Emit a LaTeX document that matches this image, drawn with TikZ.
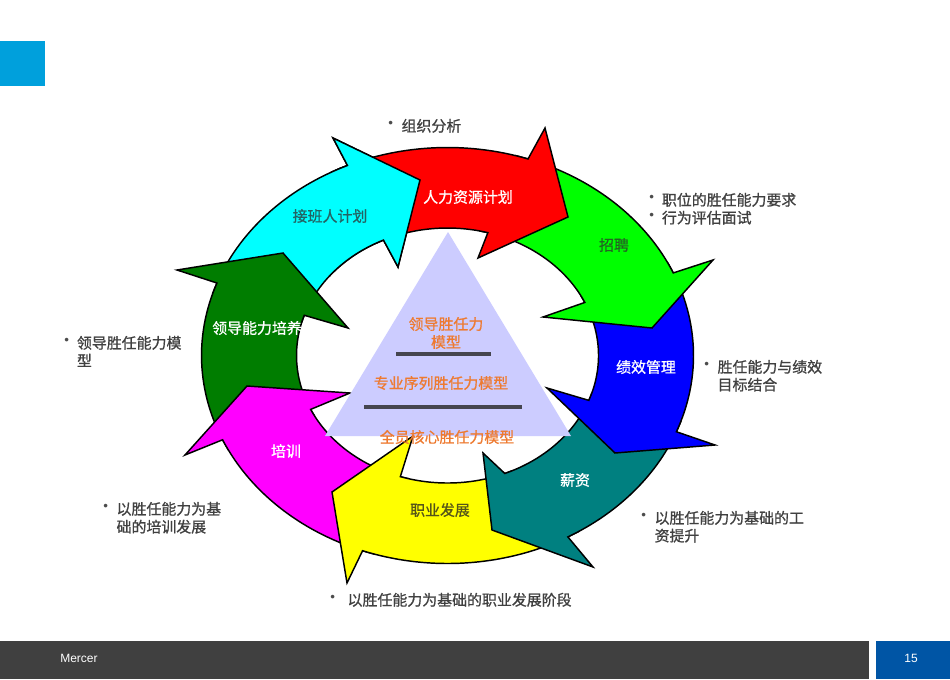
\documentclass[tikz,border=0pt]{standalone}
\usepackage{fontspec}
\setmainfont{Liberation Sans}
\newfontfamily\cjk[FakeBold=0.9]{Noto Sans CJK SC}
\usetikzlibrary{calc}
\definecolor{cyanc}{HTML}{00FFFF}
\definecolor{redc}{HTML}{FF0000}
\definecolor{greenc}{HTML}{00FF00}
\definecolor{bluec}{HTML}{0000FF}
\definecolor{tealc}{HTML}{008080}
\definecolor{yelc}{HTML}{FFFF00}
\definecolor{magc}{HTML}{FF00FF}
\definecolor{dgreenc}{HTML}{007D00}
\definecolor{tric}{HTML}{CCCCFF}
\definecolor{trilinec}{HTML}{45454F}
\definecolor{orangec}{HTML}{EE7A30}
\definecolor{bultext}{HTML}{404040}
\definecolor{oncyan}{RGB}{35,100,100}
\definecolor{ongreen}{RGB}{35,100,35}
\definecolor{onyellow}{RGB}{85,85,25}
\definecolor{topblue}{HTML}{00A0DC}
\definecolor{footgray}{HTML}{404040}
\definecolor{footblue}{HTML}{0055A5}
\newcommand\myarrow[8]{%
  \path[arrowbox, fill=#1] ($(C)+(#2:246 and 208)$)
    arc[start angle=#2, end angle=#4, x radius=246, y radius=208]
    -- #6 -- #7 -- #8 -- ($(C)+(#5:151 and 127.5)$)
    arc[start angle=#5, end angle=#3, x radius=151, y radius=127.5] -- cycle;}
\newcommand\mydot{\raisebox{3.2pt}{\color{black!70}\fontsize{10}{10}\selectfont\rmfamily •}}
\begin{document}
\begin{tikzpicture}[x=1pt,y=1pt,scale=0.75,yscale=-1,
  arrowbox/.style={draw=black, line width=1.1pt, line join=miter},
  lab/.style={font=\cjk\fontsize{11.2}{13.5}\selectfont, inner sep=0pt},
  midtext/.style={font=\cjk\fontsize{11.2}{13.5}\selectfont, text=orangec, inner sep=0pt, align=center},
  bul/.style={font=\cjk\fontsize{11.2}{13.2}\selectfont, text=bultext, inner sep=0pt, anchor=base west},
  foot/.style={font=\fontsize{9}{10}\selectfont, text=white, inner sep=0pt}]
\useasboundingbox (0,0) rectangle (950,679);
\fill[white] (0,0) rectangle (950,679);
\coordinate (C) at (447.5,355.5);
% top-left marker
\fill[topblue] (0,41) rectangle (45,86);
% ring of arrows
\myarrow{cyanc}{-162.6}{-164.6}{-114}{-115.1}{(333,138)}{(420,180)}{(398,267)}
\myarrow{dgreenc}{153.1}{152}{200.4}{198.4}{(177,270)}{(283,253)}{(348,328)}
\myarrow{magc}{107.2}{105.2}{156.1}{155}{(185,455)}{(247,386)}{(350,393)}
\myarrow{yelc}{57.7}{64.7}{110.2}{108.2}{(347,583)}{(332,492)}{(413,436)}
\myarrow{tealc}{18.5}{17.6}{60.7}{67.7}{(593,567)}{(492,530)}{(483,453)}
\myarrow{bluec}{-26.4}{-27.6}{21.5}{20.6}{(715,445)}{(615,453)}{(547,388)}
\myarrow{greenc}{-73.9}{-77.5}{-23.4}{-24.6}{(713,260)}{(652,328)}{(543,317)}
\myarrow{redc}{-117}{-118}{-70.9}{-74.5}{(545,128)}{(568,217)}{(478,258)}
\begin{scope}
\clip (330,100) rectangle (600,300);
\myarrow{cyanc}{-162.6}{-164.6}{-114}{-115.1}{(333,138)}{(420,180)}{(398,267)}
\end{scope}
% central triangle
\fill[tric] (448,232) -- (571,436) -- (325,436) -- cycle;
\draw[trilinec, line width=2.3pt] (396,354) -- (491,354);
\draw[trilinec, line width=2.3pt] (364,407) -- (522,407);
\node[midtext] (m1) at (446,333) {领导胜任力\\模型};
\node[midtext] (m2) at (441,383) {专业序列胜任力模型};
\node[midtext] (m3) at (447,437) {全员核心胜任力模型};
% arrow labels
\node[lab, text=oncyan] (a1) at (330,216) {接班人计划};
\node[lab, text=white] (a2) at (468,197) {人力资源计划};
\node[lab, text=ongreen] (a3) at (614,245) {招聘};
\node[lab, text=white] (a4) at (646,367) {绩效管理};
\node[lab, text=white] (a5) at (575,480) {薪资};
\node[lab, text=onyellow] (a6) at (440,510) {职业发展};
\node[lab, text=white] (a7) at (286,451) {培训};
\node[lab, text=white] (a8) at (257,328) {领导能力培养};
% bullet texts
\node[bul] (b1) at (388,131.5) {\begin{tabular}[t]{@{}p{10pt}@{}l@{}}\mydot & 组织分析\end{tabular}};
\node[bul] (b2) at (649,205.5) {\begin{tabular}[t]{@{}p{9.5pt}@{}l@{}}\mydot & 职位的胜任能力要求\\ \mydot & 行为评估面试\end{tabular}};
\node[bul] (b3) at (704,372.5) {\begin{tabular}[t]{@{}p{10pt}@{}l@{}}\mydot & 胜任能力与绩效\\ & 目标结合\end{tabular}};
\node[bul] (b4) at (641,523.5) {\begin{tabular}[t]{@{}p{10pt}@{}l@{}}\mydot & 以胜任能力为基础的工\\ & 资提升\end{tabular}};
\node[bul] (b5) at (330,605.5) {\begin{tabular}[t]{@{}p{13pt}@{}l@{}}\mydot & 以胜任能力为基础的职业发展阶段\end{tabular}};
\node[bul] (b6) at (103,514.5) {\begin{tabular}[t]{@{}p{10pt}@{}l@{}}\mydot & 以胜任能力为基\\ & 础的培训发展\end{tabular}};
\node[bul] (b7) at (64,348.5) {\begin{tabular}[t]{@{}p{9.5pt}@{}l@{}}\mydot & 领导胜任能力模\\ & 型\end{tabular}};
% footer
\fill[footgray] (0,641) rectangle (869,679);
\fill[footblue] (876,641) rectangle (950,679);
\node[foot, anchor=west] (f1) at (60,658) {Mercer};
\node[foot] (f2) at (911,658) {15};
\end{tikzpicture}
\end{document}
